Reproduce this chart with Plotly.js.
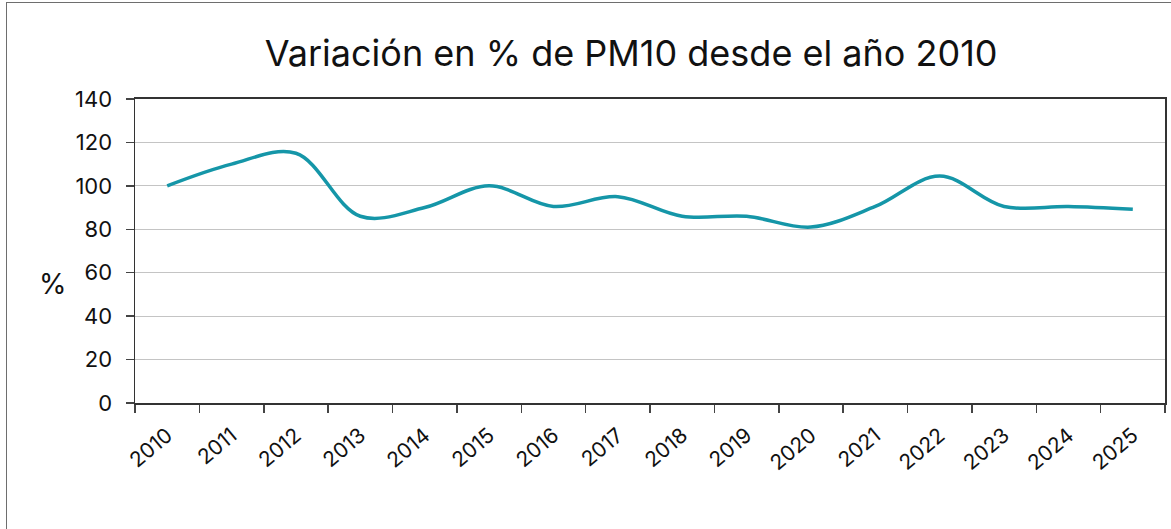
<!DOCTYPE html>
<html>
<head>
<meta charset="utf-8">
<script src="https://cdn.plot.ly/plotly-3.0.1.min.js"></script>
<style>
html,body{margin:0;padding:0;background:#fff;overflow:hidden;}
#frame{position:absolute;left:6px;top:2px;width:1170px;height:600px;border:1.5px solid #6e6e6e;box-sizing:border-box;}
#chart{position:absolute;left:0;top:0;width:1171px;height:529px;}
</style>
</head>
<body>
<div id="frame"></div>
<div id="chart"></div>
<script>
const years = ['2010','2011','2012','2013','2014','2015','2016','2017','2018','2019','2020','2021','2022','2023','2024','2025'];
const pm10Variation = [100, 110, 115, 86, 90, 100, 90.5, 95, 86, 86, 81, 90.5, 104.5, 90.5, 90.5, 89.2];
const yTicks = [0, 20, 40, 60, 80, 100, 120, 140];

const font = 'Inter, "Open Sans", sans-serif';

Plotly.newPlot('chart', [{
  x: years,
  y: pm10Variation,
  type: 'scatter',
  mode: 'lines',
  line: {color: '#1596a8', width: 3.5, shape: 'spline', smoothing: 1},
  hoverinfo: 'x+y'
}], {
  width: 1171, height: 529,
  paper_bgcolor: 'rgba(0,0,0,0)',
  plot_bgcolor: '#fff',
  margin: {l: 135, r: 6, t: 99, b: 126},
  showlegend: false,
  title: {text: 'Variación en % de PM10 desde el año 2010', x: 0.539, xanchor: 'center', y: 0.9, yanchor: 'middle',
          font: {family: font, size: 36, color: '#111'}},
  xaxis: {
    type: 'category',
    tickson: 'boundaries',
    ticks: 'outside', ticklen: 8, tickcolor: '#444', tickwidth: 1.5,
    tickangle: -40,
    ticklabelstandoff: 10,
    tickfont: {family: font, size: 21, color: '#111'},
    showline: true, linecolor: '#333', linewidth: 2, mirror: true,
    showgrid: false, zeroline: false,
    range: [-0.5, 15.5]
  },
  yaxis: {
    range: [0, 140],
    tickvals: yTicks,
    ticks: 'outside', ticklen: 8, tickcolor: '#444', tickwidth: 1.5,
    ticklabelstandoff: 9,
    tickfont: {family: font, size: 22, color: '#111'},
    showline: true, linecolor: '#333', linewidth: 1.5, mirror: true,
    showgrid: true, gridcolor: '#c4c4c4', gridwidth: 1,
    zeroline: false
  },
  annotations: [{
    text: '%', xref: 'paper', yref: 'paper', x: -0.08, y: 0.39,
    xanchor: 'center', yanchor: 'middle', showarrow: false,
    font: {family: font, size: 28, color: '#111'}
  }]
}, {displayModeBar: false, staticPlot: true});
</script>
</body>
</html>
